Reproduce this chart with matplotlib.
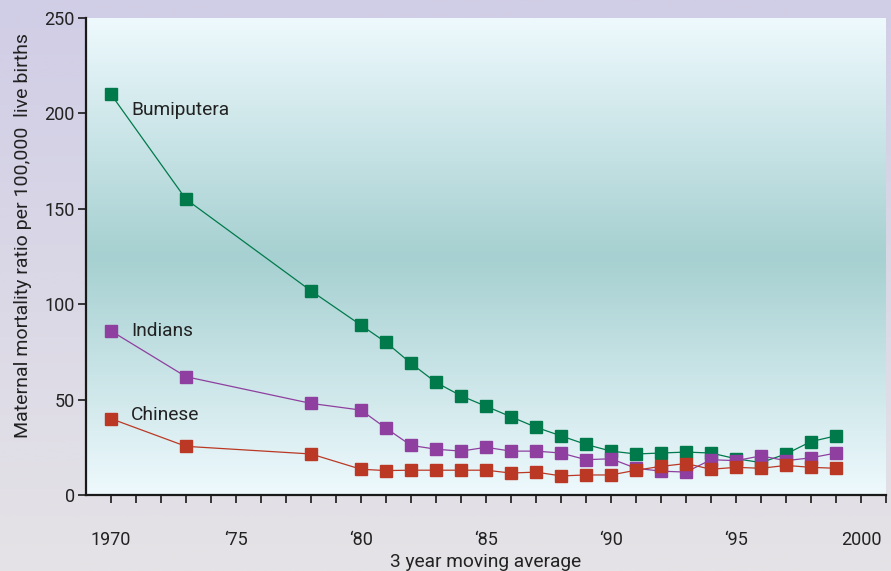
import numpy as np
import matplotlib
matplotlib.use("Agg")
import matplotlib.pyplot as plt
from matplotlib.colors import LinearSegmentedColormap

plt.rcParams['font.family'] = ['Roboto', 'DejaVu Sans']

years = [1970, 1973, 1978, 1980, 1981, 1982, 1983, 1984, 1985, 1986, 1987, 1988,
         1989, 1990, 1991, 1992, 1993, 1994, 1995, 1996, 1997, 1998, 1999]
bumiputera = [210, 155, 107, 89, 80, 69, 59, 52, 46.5, 41, 35.5, 31,
              26.5, 23, 21.5, 22, 22.5, 22, 19, 17, 21.5, 28, 31]
indians = [86, 62, 48, 44.5, 35, 26, 24, 23, 25, 23, 23, 22,
           18.5, 19, 14, 12.5, 12, 18.5, 18, 20.5, 18, 19.5, 22]
chinese = [40, 25.5, 21.5, 13.5, 12.8, 13, 13, 13, 13, 11.5, 12, 10,
           10.5, 10.5, 13, 15, 16.5, 13.5, 14.5, 14, 15.5, 14.5, 14]

series_names = ["Bumiputera", "Indians", "Chinese"]
label_y = [202, 86, 42]
colors = ["#007a4b", "#8e3f9f", "#bb3824"]

xtick_vals = [1970, 1975, 1980, 1985, 1990, 1995, 2000]
xtick_labels = ["1970", "\u201875", "\u201880", "\u201885", "\u201890", "\u201895", "2000"]
ytick_vals = [0, 50, 100, 150, 200, 250]

fig = plt.figure(figsize=(8.91, 5.71), dpi=100)

# figure background gradient
bg = fig.add_axes([0, 0, 1, 1], zorder=-10)
bg_cmap = LinearSegmentedColormap.from_list("bg", ["#d0cde6", "#e5e3e6"])
bg.imshow(np.linspace(0, 1, 256).reshape(-1, 1), aspect='auto', cmap=bg_cmap,
          extent=[0, 1, 0, 1])
bg.axis('off')

W, H = 891, 571
left, right, top, bottom = 86, 886, 18, 495
ax = fig.add_axes([left / W, 1 - bottom / H, (right - left) / W, (bottom - top) / H])
ax.patch.set_alpha(0)

grad_cmap = LinearSegmentedColormap.from_list(
    "plotbg", [(0, "#eef9fd"), (0.5, "#a6d0d1"), (1, "#eef9fd")])
ax.imshow(np.linspace(0, 1, 256).reshape(-1, 1), aspect='auto', cmap=grad_cmap,
          extent=[1969, 2001, 0, 250], zorder=0)

text_color = "#222222"
for vals, name, ly, c in zip([bumiputera, indians, chinese], series_names, label_y, colors):
    ax.plot(years, vals, color=c, lw=0.9, marker='s', markersize=8.5,
            markeredgecolor=c, markerfacecolor=c, zorder=3)
    ax.text(1970.8, ly, name, fontsize=13.8, color=text_color, va='center', ha='left', zorder=4)

ax.set_xlim(1969, 2001)
ax.set_ylim(0, 250)
ax.set_xticks(range(1970, 2002), minor=True)
ax.set_xticks(xtick_vals)
ax.set_xticklabels(xtick_labels)
ax.set_yticks(ytick_vals)

for s in ['top', 'right']:
    ax.spines[s].set_visible(False)
for s in ['left', 'bottom']:
    ax.spines[s].set_linewidth(1.6)
    ax.spines[s].set_color("#1a1a1a")

ax.tick_params(axis='x', which='both', direction='out', length=6, width=1.2,
               color="#1a1a1a", labelsize=13, labelcolor=text_color, pad=20)
ax.tick_params(axis='x', which='minor', length=6)
ax.tick_params(axis='y', direction='out', length=6, width=1.2, color="#1a1a1a",
               labelsize=13, labelcolor=text_color, pad=2)

ax.set_xlabel("3 year moving average", fontsize=13.8, color=text_color, labelpad=3)
ax.set_ylabel("Maternal mortality ratio per 100,000  live births", fontsize=14,
              color=text_color)
ax.yaxis.set_label_coords(-0.067, 0.545)

fig.savefig("out.png", dpi=100)
